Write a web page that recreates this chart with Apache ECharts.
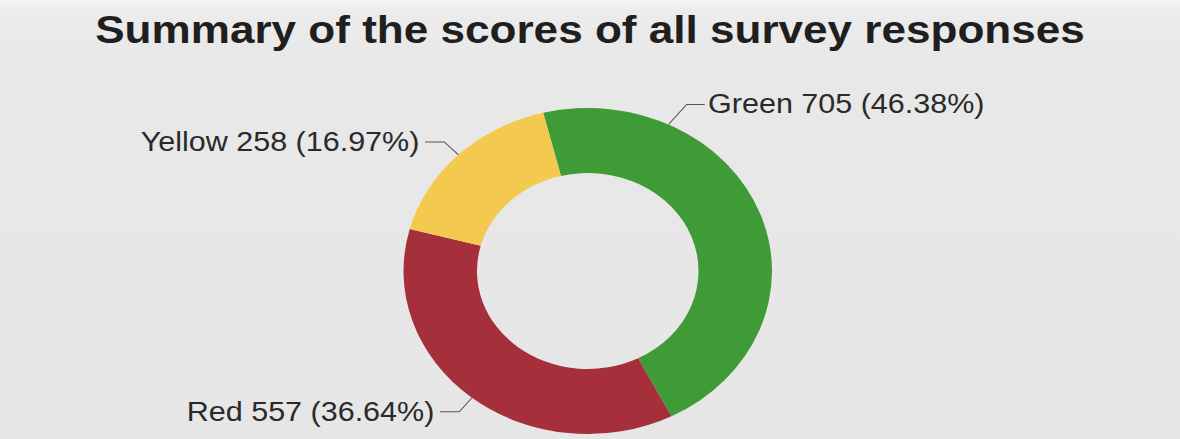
<!DOCTYPE html>
<html><head><meta charset="utf-8">
<script src="https://cdn.jsdelivr.net/npm/echarts@6/dist/echarts.min.js"></script>
<style>
html,body{margin:0;padding:0;width:1180px;height:439px;overflow:hidden;}
body{background:linear-gradient(180deg,#f7f7f7 0px,#ececec 10px,#e8e8e8 60px,#e6e6e6 100%);}
#wrap{position:absolute;left:0;top:0;width:1044px;height:439px;transform:scaleX(1.1303);transform-origin:0 0;}
</style></head><body>
<div id="wrap"></div>
<script>
const titleText = 'Summary of the scores of all survey responses';
const categories = ['Green', 'Red', 'Yellow'];
const values = [705, 557, 258];
const colors = ['#3f9b36', '#a52f3a', '#f3c94f'];

const total = values.reduce((a, b) => a + b, 0);
const CX = 520, CY = 271, R_IN = 98, R_OUT = 163;
const FONT = '"Liberation Sans", Arial, sans-serif';

const chart = echarts.init(document.getElementById('wrap'), null, {renderer: 'svg'});
chart.setOption({
  backgroundColor: 'transparent',
  animation: false,
  title: {
    text: titleText,
    left: 'center',
    top: 5,
    textStyle: {fontFamily: FONT, fontSize: 39, fontWeight: 'bold', color: '#1f1f1f'}
  },
  series: [{
    type: 'pie',
    center: [CX, CY],
    radius: [R_IN, R_OUT],
    startAngle: 104,
    clockwise: true,
    avoidLabelOverlap: false,
    data: categories.map((c, i) => ({name: c, value: values[i], itemStyle: {color: colors[i]}})),
    label: {
      show: true,
      fontFamily: FONT,
      fontSize: 27,
      color: '#2a2a2a',
      formatter: p => p.name + ' ' + p.value + ' (' + (p.value / total * 100).toFixed(2) + '%)'
    },
    labelLine: {show: true, length: 18, length2: 17, lineStyle: {color: '#555', width: 1}},
    labelLayout: function (params) {
      if (params.dataIndex !== 0) return {};
      const a = 64 * Math.PI / 180;
      const p0 = [CX + R_OUT * Math.cos(a), CY - R_OUT * Math.sin(a)];
      const p1 = [p0[0] + 16, p0[1] - 20];
      const p2 = [p1[0] + 16, p1[1]];
      return {
        x: p2[0] + 3, y: p2[1] - 1,
        align: 'left', verticalAlign: 'middle',
        labelLinePoints: [p0, p1, p2]
      };
    },
    emphasis: {disabled: true}
  }]
});
</script>
</body></html>
